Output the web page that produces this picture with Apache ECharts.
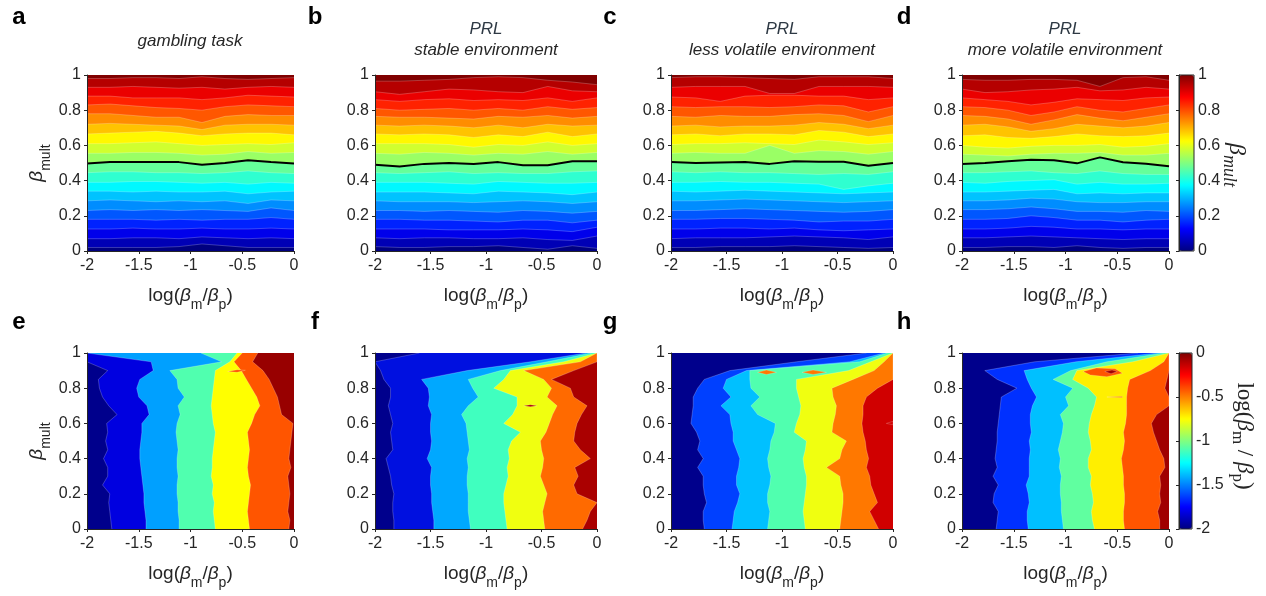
<!DOCTYPE html>
<html><head><meta charset="utf-8">
<script src="https://cdn.jsdelivr.net/npm/echarts@6/dist/echarts.min.js"></script>
<style>html,body{margin:0;padding:0;background:#fff}#c{width:1266px;height:596px}</style>
</head><body><div id="c"></div>
<script>
// ---------- tick labels ----------
const xTickLabels = ['-2', '-1.5', '-1', '-0.5', '0'];
const yTickLabels = ['0', '0.2', '0.4', '0.6', '0.8', '1'];
const cbTopLabels = ['0', '0.2', '0.4', '0.6', '0.8', '1'];
const cbBottomLabels = ['-2', '-1.5', '-1', '-0.5', '0'];

// ---------- sample grids ----------
const xGrid = [-2, -1.778, -1.556, -1.333, -1.111, -0.889, -0.667, -0.444, -0.222, 0];
const yGrid = [0, 0.05, 0.1, 0.15, 0.2, 0.25, 0.3, 0.35, 0.4, 0.45, 0.5, 0.55, 0.6, 0.65, 0.7, 0.75, 0.8, 0.85, 0.9, 0.95, 1];

// ---------- top row: beta_mult contour boundaries (levels 0.05..0.95, bottom to top), y at xGrid ----------
const aBounds = [
 [0.02,0.02,0.02,0.02,0.025,0.04,0.03,0.02,0.02,0.02],
 [0.07,0.07,0.075,0.075,0.07,0.08,0.075,0.07,0.075,0.07],
 [0.125,0.125,0.13,0.125,0.125,0.13,0.125,0.125,0.13,0.125],
 [0.18,0.18,0.18,0.175,0.18,0.175,0.18,0.18,0.19,0.18],
 [0.23,0.235,0.23,0.235,0.23,0.235,0.23,0.225,0.245,0.23],
 [0.285,0.29,0.285,0.28,0.285,0.28,0.285,0.27,0.29,0.285],
 [0.34,0.34,0.335,0.34,0.335,0.335,0.34,0.325,0.335,0.34],
 [0.39,0.39,0.395,0.395,0.39,0.385,0.39,0.38,0.39,0.385],
 [0.445,0.45,0.45,0.445,0.445,0.44,0.445,0.455,0.445,0.44],
 [0.497,0.505,0.505,0.505,0.505,0.49,0.5,0.515,0.505,0.497],
 [0.555,0.555,0.56,0.56,0.555,0.545,0.55,0.565,0.555,0.56],
 [0.61,0.61,0.615,0.62,0.61,0.6,0.605,0.61,0.605,0.615],
 [0.665,0.67,0.675,0.68,0.67,0.655,0.665,0.67,0.67,0.66],
 [0.72,0.725,0.72,0.715,0.71,0.69,0.715,0.72,0.72,0.715],
 [0.78,0.78,0.77,0.76,0.76,0.73,0.765,0.775,0.77,0.77],
 [0.83,0.835,0.825,0.815,0.81,0.8,0.82,0.83,0.825,0.82],
 [0.88,0.88,0.87,0.87,0.87,0.86,0.87,0.885,0.88,0.875],
 [0.93,0.93,0.935,0.93,0.925,0.93,0.92,0.93,0.935,0.93],
 [0.98,0.98,0.985,0.985,0.98,0.99,0.98,0.975,0.98,0.985]
];
const bBounds = [
 [0.025,0.02,0.02,0.025,0.025,0.03,0.02,0.01,0.03,0.015],
 [0.075,0.07,0.075,0.075,0.07,0.07,0.075,0.065,0.06,0.085],
 [0.125,0.125,0.125,0.12,0.12,0.12,0.125,0.12,0.11,0.135],
 [0.18,0.18,0.175,0.175,0.17,0.165,0.175,0.175,0.16,0.175],
 [0.23,0.23,0.225,0.23,0.225,0.22,0.23,0.225,0.215,0.225],
 [0.285,0.28,0.28,0.28,0.275,0.28,0.285,0.28,0.27,0.28],
 [0.335,0.335,0.335,0.33,0.325,0.34,0.335,0.33,0.32,0.335],
 [0.39,0.39,0.39,0.385,0.38,0.395,0.39,0.385,0.385,0.39],
 [0.445,0.44,0.445,0.45,0.44,0.445,0.44,0.44,0.45,0.455],
 [0.49,0.48,0.495,0.5,0.495,0.505,0.487,0.487,0.51,0.51],
 [0.555,0.55,0.56,0.555,0.545,0.555,0.55,0.565,0.55,0.56],
 [0.61,0.61,0.61,0.605,0.59,0.605,0.6,0.62,0.6,0.61],
 [0.665,0.66,0.665,0.66,0.645,0.66,0.65,0.675,0.65,0.665],
 [0.715,0.71,0.715,0.71,0.7,0.715,0.7,0.72,0.71,0.715],
 [0.765,0.76,0.76,0.755,0.75,0.765,0.76,0.77,0.755,0.765],
 [0.81,0.8,0.805,0.81,0.8,0.81,0.8,0.82,0.805,0.815],
 [0.86,0.85,0.86,0.865,0.855,0.86,0.855,0.87,0.85,0.87],
 [0.905,0.89,0.905,0.92,0.915,0.905,0.9,0.935,0.91,0.905],
 [0.965,0.965,0.97,0.975,0.985,0.99,0.985,0.97,0.96,0.945]
];
const cBounds = [
 [0.02,0.02,0.025,0.025,0.025,0.03,0.025,0.02,0.015,0.02],
 [0.07,0.075,0.075,0.075,0.08,0.085,0.08,0.075,0.065,0.08],
 [0.125,0.125,0.13,0.13,0.125,0.13,0.12,0.115,0.12,0.125],
 [0.18,0.18,0.185,0.185,0.18,0.175,0.165,0.17,0.17,0.18],
 [0.23,0.23,0.235,0.24,0.235,0.23,0.225,0.22,0.225,0.235],
 [0.285,0.285,0.29,0.295,0.29,0.285,0.28,0.275,0.28,0.285],
 [0.34,0.335,0.34,0.345,0.34,0.335,0.33,0.325,0.33,0.335],
 [0.39,0.39,0.395,0.39,0.39,0.385,0.38,0.35,0.37,0.385],
 [0.45,0.445,0.45,0.445,0.445,0.44,0.435,0.44,0.435,0.45],
 [0.505,0.5,0.503,0.505,0.495,0.51,0.507,0.507,0.485,0.5],
 [0.555,0.56,0.555,0.555,0.6,0.555,0.57,0.565,0.55,0.565],
 [0.605,0.61,0.61,0.615,0.61,0.605,0.63,0.62,0.605,0.615],
 [0.66,0.665,0.655,0.665,0.665,0.66,0.685,0.675,0.65,0.665],
 [0.71,0.715,0.705,0.71,0.71,0.715,0.73,0.72,0.695,0.715],
 [0.765,0.76,0.77,0.765,0.765,0.775,0.78,0.77,0.735,0.77],
 [0.82,0.815,0.82,0.82,0.815,0.82,0.83,0.825,0.79,0.82],
 [0.875,0.87,0.85,0.88,0.885,0.885,0.88,0.88,0.86,0.87],
 [0.93,0.935,0.935,0.935,0.895,0.895,0.935,0.935,0.935,0.93],
 [0.985,0.99,0.99,0.985,0.98,0.975,0.99,0.99,0.99,0.98]
];
const dBounds = [
 [0.02,0.02,0.025,0.025,0.02,0.03,0.02,0.015,0.02,0.02],
 [0.075,0.075,0.08,0.085,0.08,0.075,0.07,0.065,0.07,0.07],
 [0.125,0.125,0.13,0.14,0.135,0.125,0.125,0.12,0.125,0.125],
 [0.18,0.18,0.185,0.2,0.19,0.175,0.175,0.165,0.175,0.18],
 [0.235,0.235,0.24,0.25,0.24,0.225,0.225,0.22,0.23,0.225],
 [0.285,0.285,0.29,0.3,0.295,0.28,0.275,0.275,0.28,0.28],
 [0.335,0.335,0.34,0.345,0.35,0.325,0.33,0.325,0.33,0.33],
 [0.39,0.385,0.395,0.4,0.405,0.38,0.39,0.38,0.38,0.385],
 [0.445,0.445,0.45,0.455,0.445,0.44,0.455,0.44,0.435,0.435],
 [0.494,0.5,0.51,0.519,0.515,0.498,0.532,0.504,0.496,0.481],
 [0.55,0.545,0.54,0.55,0.555,0.555,0.56,0.545,0.545,0.555],
 [0.6,0.59,0.585,0.595,0.6,0.6,0.605,0.59,0.595,0.61],
 [0.655,0.66,0.645,0.64,0.65,0.665,0.655,0.65,0.655,0.67],
 [0.715,0.72,0.705,0.68,0.695,0.72,0.71,0.7,0.71,0.73],
 [0.77,0.765,0.75,0.72,0.745,0.775,0.755,0.74,0.76,0.78],
 [0.82,0.815,0.8,0.77,0.79,0.82,0.8,0.79,0.81,0.83],
 [0.87,0.86,0.85,0.83,0.845,0.865,0.86,0.855,0.87,0.875],
 [0.92,0.9,0.905,0.915,0.92,0.93,0.91,0.915,0.93,0.92],
 [0.975,0.97,0.97,0.975,0.975,0.97,0.935,0.985,0.99,0.97]
];

// ---------- bottom row: log(beta_m/beta_p) contour boundaries, x at yGrid (left to right) ----------
const eBounds = [
 [-1.76,-1.77,-1.78,-1.79,-1.78,-1.85,-1.80,-1.80,-1.84,-1.80,-1.82,-1.80,-1.81,-1.71,-1.79,-1.85,-1.88,-1.89,-1.80,-2,-2],
 [-1.43,-1.43,-1.44,-1.45,-1.45,-1.46,-1.47,-1.48,-1.49,-1.49,-1.48,-1.47,-1.47,-1.40,-1.42,-1.50,-1.52,-1.49,-1.36,-1.38,-2],
 [-1.11,-1.11,-1.12,-1.12,-1.13,-1.13,-1.12,-1.13,-1.13,-1.12,-1.13,-1.14,-1.13,-1.10,-1.12,-1.06,-1.12,-1.13,-1.20,-0.70,-0.90],
 [-0.76,-0.77,-0.78,-0.77,-0.79,-0.78,-0.80,-0.79,-0.79,-0.78,-0.77,-0.76,-0.78,-0.79,-0.80,-0.79,-0.78,-0.77,-0.76,-0.62,-0.55],
 [-0.43,-0.44,-0.45,-0.44,-0.43,-0.42,-0.44,-0.45,-0.44,-0.43,-0.44,-0.45,-0.41,-0.38,-0.33,-0.36,-0.41,-0.46,-0.51,-0.58,-0.50],
 [-0.05,-0.04,-0.06,-0.05,-0.04,-0.05,-0.06,-0.03,-0.05,-0.04,-0.03,-0.02,-0.01,-0.12,-0.14,-0.16,-0.20,-0.24,-0.30,-0.40,-0.35]
];
const fBounds = [
 [-1.83,-1.83,-1.84,-1.84,-1.83,-1.85,-1.86,-1.88,-1.90,-1.84,-1.85,-1.86,-1.84,-1.86,-1.88,-1.86,-1.86,-1.92,-1.95,-2,-1.6],
 [-1.47,-1.47,-1.48,-1.49,-1.49,-1.50,-1.50,-1.49,-1.53,-1.50,-1.49,-1.50,-1.50,-1.49,-1.52,-1.51,-1.52,-1.58,-1.17,-0.6,-0.1],
 [-1.14,-1.15,-1.16,-1.16,-1.16,-1.17,-1.17,-1.16,-1.17,-1.15,-1.16,-1.17,-1.18,-1.22,-1.16,-1.07,-1.12,-1.16,-0.87,-0.45,-0.05],
 [-0.81,-0.82,-0.83,-0.84,-0.84,-0.82,-0.80,-0.81,-0.79,-0.80,-0.77,-0.69,-0.84,-0.76,-0.72,-0.72,-0.93,-0.84,-0.78,-0.3,0],
 [-0.47,-0.48,-0.49,-0.47,-0.45,-0.48,-0.51,-0.49,-0.48,-0.50,-0.51,-0.46,-0.43,-0.40,-0.36,-0.45,-0.41,-0.48,-0.66,-0.15,0],
 [-0.13,-0.09,-0.06,0,-0.18,-0.21,-0.17,-0.20,-0.06,-0.15,-0.21,-0.20,-0.18,-0.14,-0.09,-0.21,-0.24,-0.41,-0.21,0,0]
];
const gBounds = [
 [-1.70,-1.71,-1.71,-1.68,-1.70,-1.71,-1.71,-1.76,-1.71,-1.76,-1.74,-1.77,-1.82,-1.81,-1.80,-1.80,-1.76,-1.70,-1.47,-0.87,-0.24],
 [-1.45,-1.44,-1.43,-1.40,-1.38,-1.41,-1.41,-1.39,-1.38,-1.41,-1.44,-1.44,-1.46,-1.47,-1.55,-1.46,-1.53,-1.50,-1.32,-0.39,-0.08],
 [-1.13,-1.12,-1.11,-1.13,-1.13,-1.11,-1.10,-1.12,-1.13,-1.11,-1.10,-1.07,-1.06,-1.22,-1.28,-1.20,-1.28,-1.29,-1.29,-0.30,-0.05],
 [-0.79,-0.80,-0.81,-0.80,-0.79,-0.78,-0.78,-0.80,-0.81,-0.79,-0.78,-0.89,-0.87,-0.84,-0.83,-0.85,-0.87,-0.87,-0.40,-0.20,0],
 [-0.48,-0.47,-0.46,-0.45,-0.45,-0.47,-0.48,-0.60,-0.48,-0.46,-0.42,-0.55,-0.54,-0.52,-0.51,-0.54,-0.55,-0.36,-0.17,-0.08,0],
 [-0.13,-0.17,-0.21,-0.14,-0.17,-0.20,-0.21,-0.24,-0.22,-0.24,-0.25,-0.27,-0.28,-0.27,-0.27,-0.24,-0.14,0,0,0,0]
];
const hBounds = [
 [-1.67,-1.66,-1.65,-1.70,-1.69,-1.65,-1.70,-1.66,-1.68,-1.67,-1.66,-1.66,-1.65,-1.64,-1.63,-1.62,-1.47,-1.66,-1.78,-1.30,-0.30],
 [-1.36,-1.37,-1.37,-1.35,-1.36,-1.38,-1.35,-1.35,-1.35,-1.34,-1.35,-1.33,-1.34,-1.34,-1.32,-1.28,-1.33,-1.37,-1.40,-0.90,-0.10],
 [-1.02,-1.03,-1.04,-1.04,-1.05,-1.05,-1.04,-1.06,-1.05,-1.07,-1.05,-1.03,-1.02,-1.05,-0.97,-1.00,-0.93,-1.12,-0.95,-0.60,-0.05],
 [-0.72,-0.74,-0.75,-0.73,-0.74,-0.76,-0.75,-0.78,-0.78,-0.75,-0.76,-0.78,-0.77,-0.75,-0.72,-0.70,-0.78,-0.93,-0.89,-0.35,0],
 [-0.43,-0.44,-0.44,-0.43,-0.43,-0.44,-0.44,-0.45,-0.46,-0.44,-0.43,-0.44,-0.42,-0.41,-0.41,-0.41,-0.40,-0.38,-0.18,-0.05,0],
 [-0.09,-0.09,-0.11,-0.08,-0.09,-0.08,-0.09,-0.04,-0.05,-0.09,-0.12,-0.15,-0.17,-0.12,0,0,-0.04,-0.02,0,0,0]
];
// small isolated contour patches (outline points in data units), with their level index
const eIslands = [[[-0.64,0.895],[-0.55,0.905],[-0.47,0.902],[-0.55,0.89]]];
const eIslandLevels = [5];
const fIslands = [[[-0.66,0.7],[-0.6,0.706],[-0.54,0.7],[-0.6,0.695]]];
const fIslandLevels = [6];
const gIslands = [
 [[-1.22,0.89],[-1.14,0.903],[-1.05,0.89],[-1.14,0.878]],
 [[-0.82,0.89],[-0.72,0.903],[-0.6,0.89],[-0.72,0.878]],
 [[-0.06,0.6],[0,0.612],[0,0.592]]
];
const gIslandLevels = [5, 5, 6];
const hIslands = [
 [[-0.83,0.895],[-0.7,0.915],[-0.52,0.91],[-0.45,0.885],[-0.6,0.865],[-0.76,0.875]],
 [[-0.62,0.895],[-0.55,0.903],[-0.5,0.895],[-0.56,0.882]],
 [[-0.6,0.75],[-0.45,0.753],[-0.45,0.747]]
];
const hIslandLevels = [5, 6, 5];

// ---------- colours ----------
function jet(t) {
  const c = v => Math.round(255 * Math.max(0, Math.min(1, v)));
  return 'rgb(' + c(1.5 - Math.abs(4 * t - 3)) + ',' + c(1.5 - Math.abs(4 * t - 2)) + ',' + c(1.5 - Math.abs(4 * t - 1)) + ')';
}
const topColors = Array.from({length: 20}, (_, k) => jet(k / 19));
const jetStops = ['#000080', '#0000ff', '#0080ff', '#00ffff', '#80ff80', '#ffff00', '#ff8000', '#ff0000', '#800000'];
const eColors = ['#00008c', '#0000e0', '#00a0ff', '#50ffaf', '#ffff00', '#ff5500', '#980000'];
const fColors = ['#00008c', '#0010e0', '#00a8ff', '#40ffbf', '#f0ff10', '#ff6a00', '#aa0000'];
const gColors = ['#00008c', '#0040ff', '#00c0ff', '#50ffaf', '#f0ff10', '#ff7800', '#d00000'];
const hColors = ['#00008c', '#0030ff', '#00c0ff', '#60ffa0', '#ffef00', '#ff5500', '#a00000'];

// ---------- layout ----------
const FONT = 'Liberation Sans, Arial, Helvetica, sans-serif';
const TXT = '#262626';
const cols = [{left: 87, w: 207}, {left: 375, w: 222}, {left: 671, w: 222}, {left: 962, w: 207}];
const rows = [{top: 75, h: 176}, {top: 353, h: 176}];

const grids = [], xAxes = [], yAxes = [], series = [];
rows.forEach(r => cols.forEach(c => grids.push({left: c.left, top: r.top, width: c.w, height: r.h})));
grids.forEach((g, i) => {
  xAxes.push({gridIndex: i, type: 'value', min: -2, max: 0, interval: 0.5, z: 10,
    axisLine: {show: true, onZero: false, lineStyle: {color: TXT, width: 1}},
    axisTick: {show: true, inside: false, length: 3, lineStyle: {color: TXT}},
    axisLabel: {fontSize: 16, color: TXT, fontFamily: FONT, margin: 7,
      formatter: v => xTickLabels[Math.round((v + 2) / 0.5)]},
    splitLine: {show: false}});
  yAxes.push({gridIndex: i, type: 'value', min: 0, max: 1, interval: 0.2, z: 10,
    axisLine: {show: true, onZero: false, lineStyle: {color: TXT, width: 1}},
    axisTick: {show: true, inside: false, length: 3, lineStyle: {color: TXT}},
    axisLabel: {fontSize: 16, color: TXT, fontFamily: FONT, margin: 6,
      formatter: v => yTickLabels[Math.round(v / 0.2)]},
    splitLine: {show: false}});
});
// colorbars
grids.push({left: 1179, top: 75, width: 15, height: 176, show: true, borderColor: TXT, borderWidth: 1, z: 6});
grids.push({left: 1179, top: 353, width: 13, height: 176, show: true, borderColor: TXT, borderWidth: 1, z: 6});
xAxes.push({gridIndex: 8, type: 'value', min: 0, max: 1, show: false});
xAxes.push({gridIndex: 9, type: 'value', min: 0, max: 1, show: false});
yAxes.push({gridIndex: 8, type: 'value', position: 'right', min: 0, max: 1, interval: 0.2, z: 10,
  axisLine: {show: true, lineStyle: {color: TXT}}, axisTick: {show: true, inside: true, length: 3, lineStyle: {color: TXT}},
  axisLabel: {fontSize: 16, color: TXT, fontFamily: FONT, margin: 4, formatter: v => cbTopLabels[Math.round(v / 0.2)]},
  splitLine: {show: false}});
yAxes.push({gridIndex: 9, type: 'value', position: 'right', min: -2, max: 0, interval: 0.5, z: 10,
  axisLine: {show: true, lineStyle: {color: TXT}}, axisTick: {show: true, inside: true, length: 3, lineStyle: {color: TXT}},
  axisLabel: {fontSize: 16, color: TXT, fontFamily: FONT, margin: 4, formatter: v => cbBottomLabels[Math.round((v + 2) / 0.5)]},
  splitLine: {show: false}});

const EDGE = 'rgba(255,255,255,0.32)';
function topSeries(gi, bounds) {
  return {type: 'custom', xAxisIndex: gi, yAxisIndex: gi, silent: true, clip: true, z: 2,
    data: topColors.map((c, k) => [-1, 0.5, k]),
    renderItem(params, api) {
      const k = api.value(2);
      const lower = k === 0 ? null : bounds[k - 1];
      const pts = [], line = [];
      for (let j = 0; j < xGrid.length; j++) { const p = api.coord([xGrid[j], lower ? lower[j] : 0]); pts.push(p); line.push(p); }
      for (let j = xGrid.length - 1; j >= 0; j--) pts.push(api.coord([xGrid[j], 1]));
      const ch = [{type: 'polygon', shape: {points: pts}, style: {fill: topColors[k]}}];
      if (lower) ch.push({type: 'polyline', shape: {points: line}, style: {stroke: EDGE, lineWidth: 0.7, fill: null}});
      return {type: 'group', children: ch};
    }};
}
function bottomSeries(gi, bounds, colors) {
  return {type: 'custom', xAxisIndex: gi, yAxisIndex: gi, silent: true, clip: true, z: 2,
    data: colors.map((c, k) => [-1, 0.5, k]),
    renderItem(params, api) {
      const k = api.value(2);
      const left = k === 0 ? null : bounds[k - 1];
      const pts = [], line = [];
      for (let i = 0; i < yGrid.length; i++) { const p = api.coord([left ? left[i] : -2, yGrid[i]]); pts.push(p); line.push(p); }
      for (let i = yGrid.length - 1; i >= 0; i--) pts.push(api.coord([0, yGrid[i]]));
      const ch = [{type: 'polygon', shape: {points: pts}, style: {fill: colors[k]}}];
      if (left) ch.push({type: 'polyline', shape: {points: line}, style: {stroke: EDGE, lineWidth: 0.7, fill: null}});
      return {type: 'group', children: ch};
    }};
}
function islandSeries(gi, islands, levels, colors) {
  return {type: 'custom', xAxisIndex: gi, yAxisIndex: gi, silent: true, clip: true, z: 3,
    data: islands.map((s, k) => [-1, 0.5, k]),
    renderItem(params, api) {
      const k = api.value(2);
      return {type: 'polygon', shape: {points: islands[k].map(p => api.coord(p))},
        style: {fill: colors[levels[k]], stroke: EDGE, lineWidth: 0.6}};
    }};
}
const topB = [aBounds, bBounds, cBounds, dBounds];
topB.forEach((b, i) => series.push(topSeries(i, b)));
const bottomSets = [[eBounds, eColors, eIslands, eIslandLevels], [fBounds, fColors, fIslands, fIslandLevels],
                    [gBounds, gColors, gIslands, gIslandLevels], [hBounds, hColors, hIslands, hIslandLevels]];
bottomSets.forEach((p, i) => series.push(bottomSeries(i + 4, p[0], p[1])));
topB.forEach((b, i) => series.push({type: 'line', xAxisIndex: i, yAxisIndex: i, silent: true, z: 5,
  showSymbol: false, symbol: 'none', lineStyle: {color: '#000', width: 2},
  data: xGrid.map((x, j) => [x, b[9][j]])}));
series.push({type: 'line', xAxisIndex: 8, yAxisIndex: 8, data: []});   // index 12
series.push({type: 'line', xAxisIndex: 9, yAxisIndex: 9, data: []});   // index 13
bottomSets.forEach((p, i) => series.push(islandSeries(i + 4, p[2], p[3], p[1])));

// ---------- text ----------
const graphics = [];
const letters = [['a', 19, 17], ['b', 315, 17], ['c', 610, 17], ['d', 904, 17],
                 ['e', 19, 322], ['f', 315, 322], ['g', 610, 322], ['h', 904, 322]];
letters.forEach(l => graphics.push({type: 'text', x: l[1], y: l[2], silent: true,
  style: {text: l[0], font: 'bold 24px ' + FONT, fill: '#000', align: 'center', verticalAlign: 'middle'}}));
function title(txt, x, y, color) {
  graphics.push({type: 'text', x: x, y: y, silent: true,
    style: {text: txt, font: 'italic 17px ' + FONT, fill: color || TXT, align: 'center', verticalAlign: 'middle'}});
}
title('gambling task', 190, 41);
[['stable environment', 486], ['less volatile environment', 782], ['more volatile environment', 1065]].forEach(t => {
  title('PRL', t[1], 29, '#2e3944');
  title(t[0], t[1], 50);
});
const richSans = {
  n: {fontSize: 19, fontFamily: FONT, fill: TXT, lineHeight: 32},
  b: {fontSize: 19, fontFamily: FONT, fontStyle: 'italic', fill: TXT, lineHeight: 32},
  s: {fontSize: 14, fontFamily: FONT, fill: TXT, lineHeight: 14, verticalAlign: 'bottom'}
};
cols.forEach(c => [296, 574].forEach(y => graphics.push({type: 'text', x: c.left + c.w / 2, y: y, silent: true,
  style: {text: '{n|log(}{b|β}{s|m}{n|/}{b|β}{s|p}{n|)}', rich: richSans, align: 'center', verticalAlign: 'middle'}})));
[163, 441].forEach(y => graphics.push({type: 'text', x: 37, y: y, rotation: Math.PI / 2, silent: true,
  style: {text: '{b|β}{s|mult}', rich: richSans, align: 'center', verticalAlign: 'middle'}}));
const serif = 'Liberation Serif, Times New Roman, serif';
graphics.push({type: 'text', x: 1236, y: 165, rotation: -Math.PI / 2, silent: true,
  style: {text: '{b|β}{s|mult}', align: 'center', verticalAlign: 'middle', rich: {
    b: {fontSize: 24, fontFamily: serif, fontStyle: 'italic', fill: TXT, lineHeight: 32},
    s: {fontSize: 18, fontFamily: serif, fontStyle: 'italic', fill: TXT, lineHeight: 18, verticalAlign: 'bottom'}}}});
graphics.push({type: 'text', x: 1244, y: 436, rotation: -Math.PI / 2, silent: true,
  style: {text: '{n|log(}{b|β}{s|m}{n| / }{b|β}{s|p}{n|)}', align: 'center', verticalAlign: 'middle', rich: {
    n: {fontSize: 23, fontFamily: serif, fill: TXT, lineHeight: 30},
    b: {fontSize: 23, fontFamily: serif, fontStyle: 'italic', fill: TXT, lineHeight: 30},
    s: {fontSize: 17, fontFamily: serif, fill: TXT, lineHeight: 18, verticalAlign: 'bottom'}}}});

const chart = echarts.init(document.getElementById('c'), null, {renderer: 'canvas'});
chart.setOption({
  animation: false,
  backgroundColor: '#fff',
  grid: grids, xAxis: xAxes, yAxis: yAxes, series: series,
  visualMap: [
    {type: 'continuous', min: 0, max: 1, seriesIndex: 12, calculable: false, hoverLink: false,
     itemWidth: 15, itemHeight: 176, left: 1179, top: 75, padding: 0, orient: 'vertical', inRange: {color: jetStops}},
    {type: 'continuous', min: -2, max: 0, seriesIndex: 13, calculable: false, hoverLink: false,
     itemWidth: 13, itemHeight: 176, left: 1179, top: 353, padding: 0, orient: 'vertical', inRange: {color: jetStops}}
  ],
  graphic: graphics
});
</script></body></html>
